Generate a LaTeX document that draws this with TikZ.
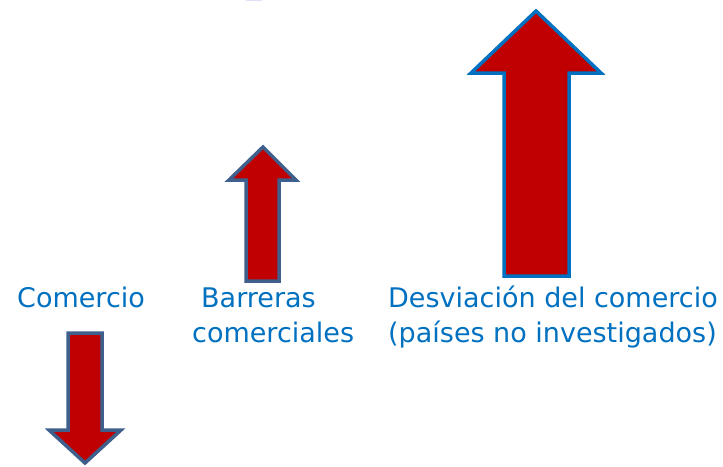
\documentclass[tikz,border=0pt]{standalone}
\usepackage{fontspec}
\setmainfont{DejaVu Sans}
\definecolor{arrowred}{HTML}{C00000}
\definecolor{edgeslate}{HTML}{3F5F8C}
\definecolor{edgeblue}{HTML}{0070C0}
\definecolor{labelblue}{HTML}{0070C0}
\definecolor{titleblue}{HTML}{0000CC}
\tikzset{
  redarrow/.style={fill=arrowred, draw=edgeslate, line width=3.5pt, line join=miter},
  label/.style={text=labelblue, inner sep=0pt, font=\fontsize{27}{35}\selectfont, align=left}
}
\begin{document}
\begin{tikzpicture}[x=1pt,y=-1pt]
        \useasboundingbox (0,0) rectangle (723,466);
        % remnant of the cut-off title
        \fill [titleblue] (246,0) arc[start angle=180,end angle=360,x radius=8,y radius=3] -- cycle;
        % big arrow: trade diversion
        \coordinate (desvTip) at (536,11);
        \draw [redarrow, draw=edgeblue] (desvTip) -- (601,73) -- (569,73) -- (569,276)
              -- (504,276) -- (504,73) -- (471,73) -- cycle;
        % small arrow: trade barriers
        \coordinate (barrTip) at (263,147);
        \draw [redarrow] (barrTip) -- (296,180) -- (279,180) -- (279,281)
              -- (246,281) -- (246,180) -- (229,180) -- cycle;
        % down arrow: trade
        \coordinate (comTip) at (85,463);
        \draw [redarrow] (68,333) -- (102,333) -- (102,430) -- (121,430)
              -- (comTip) -- (49,430) -- (68,430) -- cycle;
        % labels
        \node [label, anchor=base west] (comercio) at (17,307) {Comercio};
        \node [label, anchor=base west] (barreras) at (192,342) {\hspace*{9pt}Barreras\\comerciales};
        \node [label, anchor=base west] (desviacion) at (388,342) {Desviación del comercio\\(países no investigados)};
\end{tikzpicture}
\end{document}
